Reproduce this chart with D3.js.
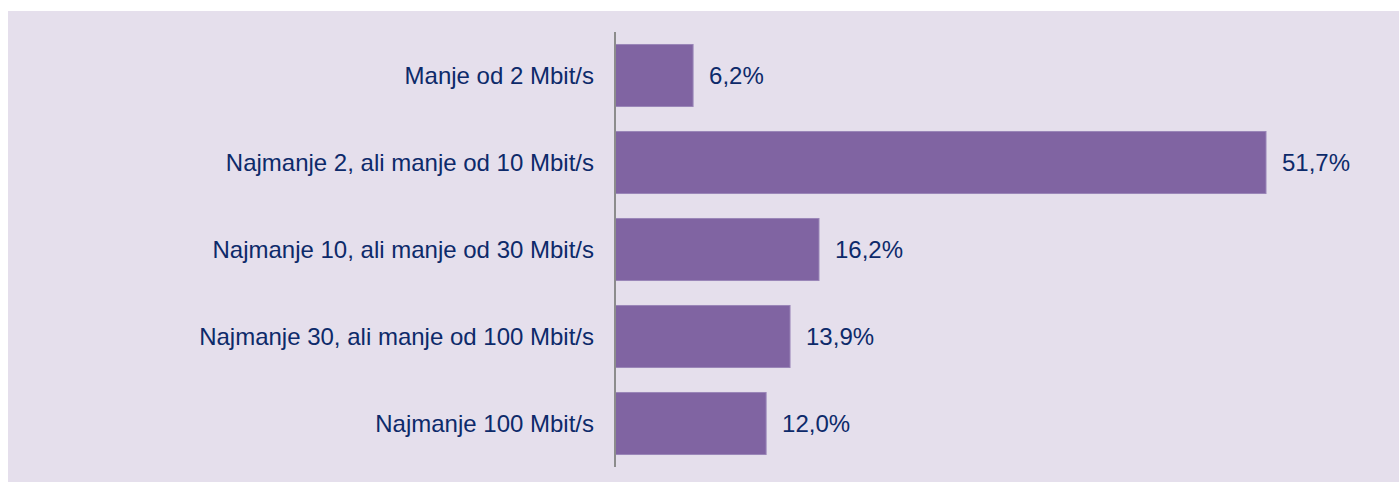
<!DOCTYPE html>
<html><head><meta charset="utf-8">
<script src="https://cdn.jsdelivr.net/npm/d3@7"></script>
<style>html,body{margin:0;padding:0;background:#fff;}svg{display:block;}</style>
</head><body>
<script>
const categories = ["Manje od 2 Mbit/s","Najmanje 2, ali manje od 10 Mbit/s","Najmanje 10, ali manje od 30 Mbit/s","Najmanje 30, ali manje od 100 Mbit/s","Najmanje 100 Mbit/s"];
const values = [6.2, 51.7, 16.2, 13.9, 12.0];
const valueLabels = ["6,2%","51,7%","16,2%","13,9%","12,0%"];

const W = 1399, H = 482;
const svg = d3.select("body").append("svg").attr("width", W).attr("height", H);
svg.append("rect").attr("x", 8).attr("y", 11).attr("width", W - 8).attr("height", H - 11).attr("fill", "#e5dfec");

const x0 = 615;
const x = d3.scaleLinear().domain([0, 51.7]).range([x0, 1266]);
const y = d3.scaleBand().domain(categories).range([32, 467]).paddingInner(0.287).paddingOuter(0.1435);

const font = "'Liberation Sans', Arial, sans-serif";
const textColor = "#0d2a6a";

svg.selectAll("rect.bar").data(values).enter().append("rect")
  .attr("class","bar")
  .attr("x", x(0))
  .attr("y", (d,i) => y(categories[i]))
  .attr("width", d => x(d) - x(0))
  .attr("height", y.bandwidth())
  .attr("fill", "#8064a2")
  .attr("stroke", "#9a86b8").attr("stroke-width", 1);

svg.append("line").attr("x1", x0).attr("x2", x0).attr("y1", 32).attr("y2", 467)
  .attr("stroke", "#8c8c8c").attr("stroke-width", 2);

svg.selectAll("text.cat").data(categories).enter().append("text")
  .attr("class","cat")
  .attr("x", x0 - 21)
  .attr("y", d => y(d) + y.bandwidth()/2)
  .attr("dy", "0.36em")
  .attr("text-anchor", "end")
  .attr("font-family", font).attr("font-size", "24px").attr("fill", textColor)
  .text(d => d);

svg.selectAll("text.val").data(values).enter().append("text")
  .attr("class","val")
  .attr("x", d => x(d) + 16)
  .attr("y", (d,i) => y(categories[i]) + y.bandwidth()/2)
  .attr("dy", "0.36em")
  .attr("font-family", font).attr("font-size", "24px").attr("fill", textColor)
  .text((d,i) => valueLabels[i]);
</script>
</body></html>
